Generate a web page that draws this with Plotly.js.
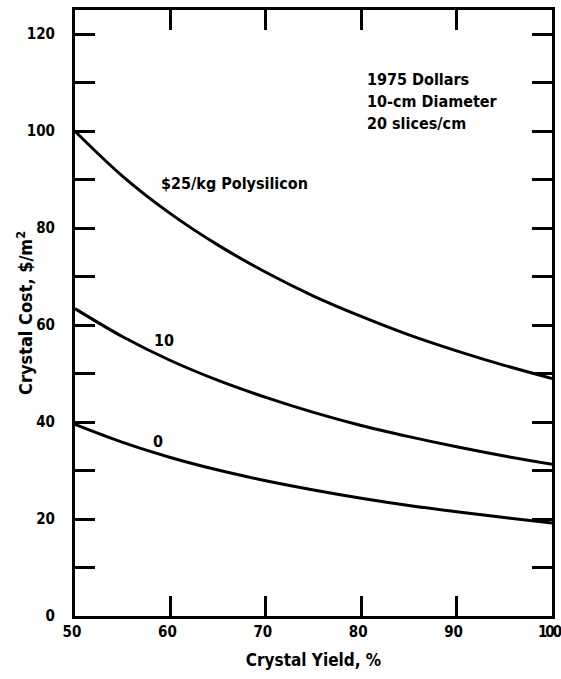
<!DOCTYPE html>
<html>
<head>
<meta charset="utf-8">
<script src="https://cdn.plot.ly/plotly-3.0.1.min.js"></script>
<style>
  html, body { margin: 0; padding: 0; background: #fff; }
  #chart { width: 561px; height: 679px; }
</style>
</head>
<body>
<div id="chart"></div>
<script>
// Crystal yield (%) at which each curve is given
const yieldPct = [50, 55, 60, 65, 70, 75, 80, 85, 90, 95, 100];

// Crystal cost ($/m^2) for each polysilicon price
const cost25 = [100.0, 90.7, 83.0, 76.5, 70.9, 66.0, 61.8, 58.0, 54.7, 51.7, 49.0];
const cost10 = [63.4, 57.6, 52.7, 48.6, 45.1, 42.0, 39.3, 37.0, 34.9, 33.0, 31.3];
const cost0  = [39.5, 35.8, 32.7, 30.1, 27.9, 26.0, 24.3, 22.8, 21.5, 20.3, 19.2];

// Axis ticks (the last x label is tightened so it stays inside the page)
const xTickVals = [50, 60, 70, 80, 90, 100];
const xTickText = ['50', '60', '70', '80', '90', '<span style="letter-spacing:-2px">100</span>'];
const yTickVals = [0, 10, 20, 30, 40, 50, 60, 70, 80, 90, 100, 110, 120];
const yTickText = ['0', '', '20', '', '40', '', '60', '', '80', '', '100', '', '120'];

// Curve labels
const curveLabels = [
  { text: '$25/kg Polysilicon', x: 58.8, y: 89.2, anchor: 'left' },
  { text: '10', x: 59.3, y: 56.8, anchor: 'center' },
  { text: '0', x: 58.7, y: 35.9, anchor: 'center' }
];
const noteLines = ['1975 Dollars', '10-cm Diameter', '20 slices/cm'];
const yTitle = 'Crystal Cost, $/m<sup>2</sup>';

const FONT = '"DejaVu Sans Condensed", "Liberation Sans Narrow", "DejaVu Sans", sans-serif';
const textFont = (size) => ({ family: FONT, size: size, color: '#000', weight: 'bold' });

const lineStyle = { color: '#000', width: 3, shape: 'spline', smoothing: 1 };
const traces = [cost25, cost10, cost0].map(c => ({
  x: yieldPct, y: c, type: 'scatter', mode: 'lines',
  line: lineStyle, hoverinfo: 'skip', showlegend: false
}));

const annotations = curveLabels.map(l => ({
  x: l.x, y: l.y, xref: 'x', yref: 'y', text: l.text, showarrow: false,
  xanchor: l.anchor, yanchor: 'middle', font: textFont(16)
}));
noteLines.forEach((t, i) => annotations.push({
  x: 0.609, y: 0.885 - i * 0.0363, xref: 'paper', yref: 'paper', text: t,
  showarrow: false, xanchor: 'left', yanchor: 'middle', font: textFont(16)
}));
// Vertical axis title, set close to the tick labels
annotations.push({
  x: -0.105, y: 0.5, xref: 'paper', yref: 'paper', text: yTitle,
  textangle: -90, showarrow: false, xanchor: 'center', yanchor: 'middle',
  font: textFont(18)
});

const axisCommon = {
  showgrid: false, zeroline: false, showline: true, linecolor: '#000', linewidth: 3,
  mirror: 'ticks', ticks: 'inside', ticklen: 20, tickwidth: 3, tickcolor: '#000',
  tickmode: 'array', fixedrange: true, ticklabeloverflow: 'allow',
  tickfont: textFont(15)
};

const layout = {
  width: 561, height: 679,
  margin: { l: 75, r: 9, t: 10, b: 63 },
  paper_bgcolor: '#fff', plot_bgcolor: '#fff',
  xaxis: Object.assign({}, axisCommon, {
    range: [50, 100], tickvals: xTickVals, ticktext: xTickText,
    ticklabelstandoff: 0, ticklabelshift: -3,
    title: { text: 'Crystal Yield, %', font: textFont(17), standoff: 15 }
  }),
  yaxis: Object.assign({}, axisCommon, {
    range: [0, 125], tickvals: yTickVals, ticktext: yTickText,
    ticklabelstandoff: 14
  }),
  annotations: annotations
};

Plotly.newPlot('chart', traces, layout, { staticPlot: true, displayModeBar: false });
</script>
</body>
</html>
